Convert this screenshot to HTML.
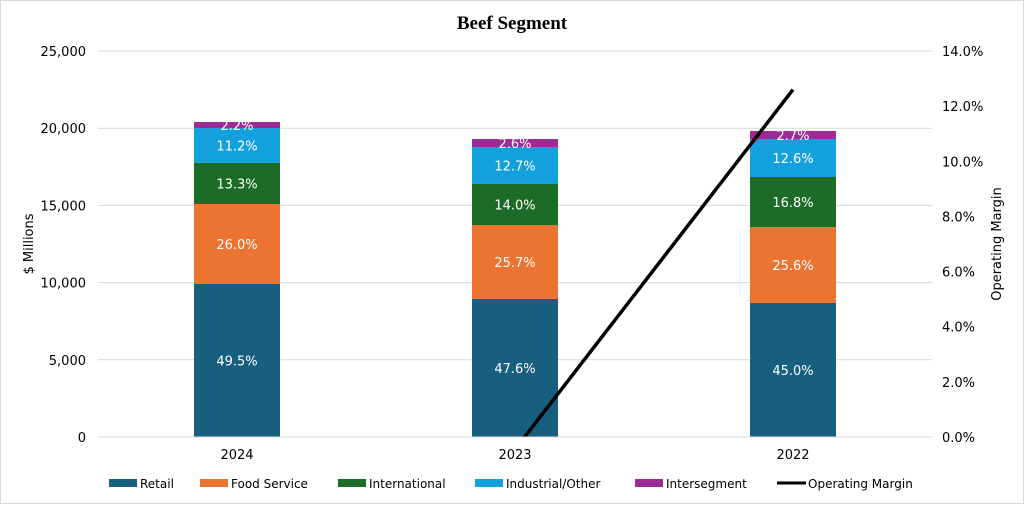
<!DOCTYPE html>
<html><head><meta charset="utf-8"><style>
html,body{margin:0;padding:0;background:#fff;}
svg text{font-family:"DejaVu Sans","Liberation Sans",sans-serif;}
</style></head><body>
<svg id="chart" width="1024" height="504" xmlns="http://www.w3.org/2000/svg">
<rect x="0.5" y="0.5" width="1023" height="503" fill="#fff" stroke="#d9d9d9"/>
<text x="512" y="29" text-anchor="middle" style="font-family:'Liberation Serif',serif" font-weight="bold" font-size="19">Beef Segment</text>
<g id="grid"></g><g id="bars"></g><g id="line"></g><g id="axes"></g><g id="legend"></g>
<text transform="translate(33,244) rotate(-90)" text-anchor="middle" font-size="13">$ Millions</text>
<text transform="translate(1001,244) rotate(-90)" text-anchor="middle" font-size="13">Operating Margin</text>
</svg>
<script>
const categories=["2024","2023","2022"];
const seriesNames=["Retail","Food Service","International","Industrial/Other","Intersegment"];
const retail=[9910,8940,8680];
const foodService=[5180,4790,4920];
const international=[2660,2660,3240];
const industrial=[2260,2390,2460];
const intersegment=[390,520,520];
const pctLabels=[["49.5%","26.0%","13.3%","11.2%","2.2%"],["47.6%","25.7%","14.0%","12.7%","2.6%"],["45.0%","25.6%","16.8%","12.6%","2.7%"]];
const operatingMargin=[-0.9,-0.45,12.6];
const leftTicks=[0,5000,10000,15000,20000,25000];
const rightTicks=[0,2,4,6,8,10,12,14];
const colors=["#175e7f","#eb7433","#1c6b26","#14a0dc","#9d2b95"];
const NS="http://www.w3.org/2000/svg";
const L=98,R=932,T=51,B=437;
const y=v=>B-(v/25000)*(B-T);
const y2=v=>B-(v/14)*(B-T);
const band=(R-L)/categories.length;
const xc=i=>L+band*(i+0.5);
const bw=86;
function mk(tag,attrs,parent){const e=document.createElementNS(NS,tag);for(const k in attrs)e.setAttribute(k,attrs[k]);document.getElementById(parent).appendChild(e);return e;}
leftTicks.forEach((t,i)=>{
 const g=mk("line",{x1:L,x2:R,y1:y(t),y2:y(t),stroke:"#d9d9d9","stroke-width":1},"grid");
 
 
 const tx=mk("text",{x:L-12,y:y(t)+5,"text-anchor":"end","font-size":13},"axes");
 tx.textContent=t.toLocaleString('en-US');
 
 
});
rightTicks.forEach(t=>{
 const tx=mk("text",{x:942,y:y2(t)+5,"font-size":13},"axes");
 tx.textContent=t.toFixed(1)+"%";
 
 
});
const series=[retail,foodService,international,industrial,intersegment];
categories.forEach((c,i)=>{
 let cum=0;
 series.forEach((s,j)=>{
  const v=s[i];const top=y(cum+v),bot=y(cum);
  const r=mk("rect",{x:xc(i)-bw/2,y:top,width:bw,height:bot-top,fill:colors[j]},"bars");
  
  
  const t=mk("text",{x:xc(i),y:(top+bot)/2+5,"text-anchor":"middle","font-size":13,fill:"#fff"},"bars");
  t.textContent=pctLabels[i][j];
  
  
  cum+=v;
 });
 const tx=mk("text",{x:xc(i),y:B+22,"text-anchor":"middle","font-size":13},"axes");
 tx.textContent=c;
 
 
});
const ax=mk("line",{x1:L,x2:R,y1:B,y2:B,stroke:"#d9d9d9"},"axes");


const cp=mk("clipPath",{id:"clip"},"line");
const cr=document.createElementNS(NS,"rect");
cr.setAttribute("x",L);cr.setAttribute("y",T-10);cr.setAttribute("width",R-L);cr.setAttribute("height",B-T+10);cp.appendChild(cr);
const pts=operatingMargin.map((v,i)=>xc(i)+","+y2(v)).join(" ");
const pl=mk("polyline",{points:pts,fill:"none",stroke:"#000","stroke-width":3.5,"clip-path":"url(#clip)"},"line");


const legendItems=[...seriesNames.map((n,j)=>({n,c:colors[j]})),{n:"Operating Margin",line:true}];
const lx=[140,231,369,506,666,808];
legendItems.forEach((it,k)=>{
 const g=mk("g",{},"legend");
 
 
 const e=document.createElementNS(NS,it.line?"line":"rect");
 if(it.line){e.setAttribute("x1",lx[k]-31);e.setAttribute("x2",lx[k]-2);e.setAttribute("y1",483);e.setAttribute("y2",483);e.setAttribute("stroke","#000");e.setAttribute("stroke-width",3);}
 else{e.setAttribute("x",lx[k]-31);e.setAttribute("y",479);e.setAttribute("width",28);e.setAttribute("height",8);e.setAttribute("fill",it.c);}
 g.appendChild(e);
 const t=document.createElementNS(NS,"text");
 t.setAttribute("x",lx[k]);t.setAttribute("y",488);t.setAttribute("font-size",12);t.textContent=it.n;
 g.appendChild(t);
});
</script>
</body></html>
